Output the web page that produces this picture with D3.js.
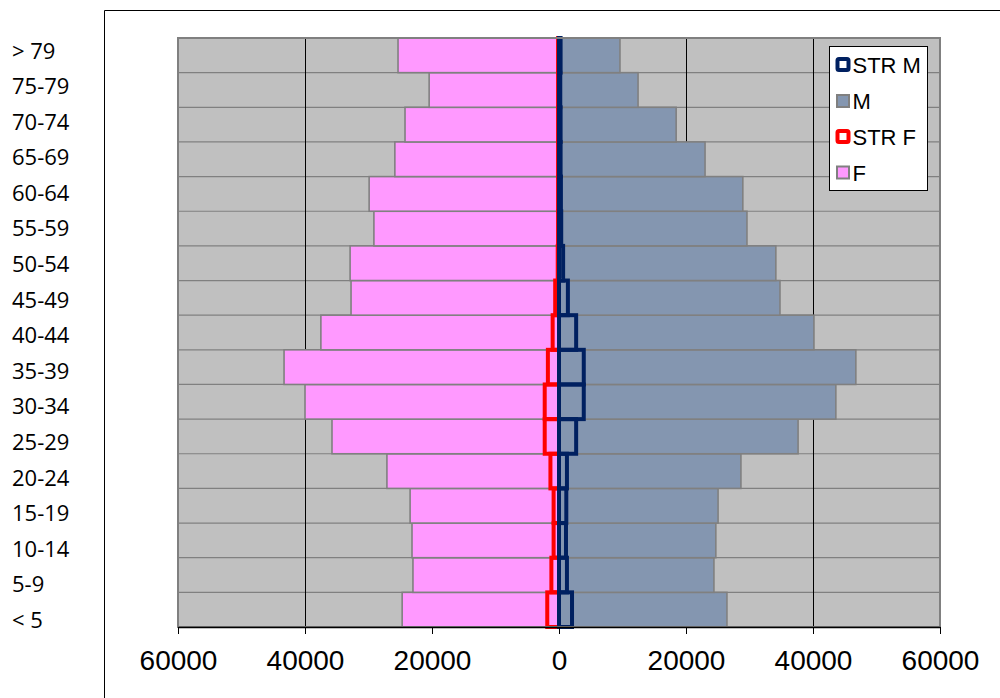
<!DOCTYPE html>
<html>
<head>
<meta charset="utf-8">
<script src="https://cdn.jsdelivr.net/npm/d3@7"></script>
<style>
  body { margin: 0; background: #fff; }
  svg { display: block; }
</style>
</head>
<body>
<script>
// age groups, bottom to top
var categories = ["< 5", "5-9", "10-14", "15-19", "20-24", "25-29", "30-34", "35-39", "40-44",
                  "45-49", "50-54", "55-59", "60-64", "65-69", "70-74", "75-79", "> 79"];
var valuesF = [24700, 23000, 23150, 23450, 27100, 35750, 40000, 43300, 37500,
               32750, 32900, 29150, 29900, 25850, 24250, 20450, 25350];
var valuesM = [26450, 24400, 24700, 25050, 28650, 37650, 43600, 46750, 40150,
               34800, 34150, 29600, 28950, 23000, 18450, 12450, 9600];
var valuesStrF = [1850, 1200, 850, 850, 1350, 2250, 2250, 1750, 1000,
                  600, 200, 150, 150, 150, 150, 150, 150];
var valuesStrM = [2050, 1250, 1100, 1150, 1250, 2700, 3900, 3900, 2700,
                  1400, 650, 350, 300, 250, 250, 200, 250];
var xTicks = [-60000, -40000, -20000, 0, 20000, 40000, 60000];
var legendItems = ["STR M", "M", "STR F", "F"];

var w = 1000, h = 698;
var plotL = 178, plotR = 940, plotT = 38, plotB = 627;
var colors = { F: "#ff99ff", M: "#8496b0", strF: "#ff0000", strM: "#002060", bg: "#c0c0c0", edge: "#808080" };

var svg = d3.select("body").append("svg").attr("width", w).attr("height", h);

// chart frame (only top and left edges visible)
svg.append("path")
    .attr("d", "M104.5," + h + "V10.5H" + w)
    .attr("fill", "none")
    .attr("stroke", "#000")
    .attr("stroke-width", 1);

var x = d3.scaleLinear().domain([-60000, 60000]).range([plotL, plotR]);
var order = categories.slice().reverse();
var y = d3.scaleBand().domain(order).range([plotT, plotB]).padding(0);
var yLabel = d3.scalePoint().domain(order).range([50.5, 620]);

var rows = categories.map(function (c, i) {
    return { cat: c, f: valuesF[i], m: valuesM[i], sf: valuesStrF[i], sm: valuesStrM[i] };
});

// plot background
svg.append("rect")
    .attr("x", plotL).attr("y", plotT)
    .attr("width", plotR - plotL).attr("height", plotB - plotT)
    .attr("fill", colors.bg);

// horizontal separators
svg.append("g").selectAll("line")
    .data(order.slice(1))
    .enter().append("line")
    .attr("x1", plotL).attr("x2", plotR)
    .attr("y1", d => y(d)).attr("y2", d => y(d))
    .attr("stroke", colors.edge)
    .attr("stroke-width", 1.2);

// vertical gridlines
svg.append("g").selectAll("line")
    .data(xTicks.slice(1, -1))
    .enter().append("line")
    .attr("x1", d => Math.round(x(d)) + 0.5).attr("x2", d => Math.round(x(d)) + 0.5)
    .attr("y1", plotT).attr("y2", plotB)
    .attr("stroke", "#000")
    .attr("stroke-width", 1);

// F bars
svg.append("g").selectAll("rect")
    .data(rows)
    .enter().append("rect")
    .attr("x", d => x(-d.f))
    .attr("y", d => y(d.cat))
    .attr("width", d => x(0) - x(-d.f))
    .attr("height", y.bandwidth())
    .attr("fill", colors.F)
    .attr("stroke", colors.edge)
    .attr("stroke-width", 1.6);

// M bars
svg.append("g").selectAll("rect")
    .data(rows)
    .enter().append("rect")
    .attr("x", x(0))
    .attr("y", d => y(d.cat))
    .attr("width", d => x(d.m) - x(0))
    .attr("height", y.bandwidth())
    .attr("fill", colors.M)
    .attr("stroke", colors.edge)
    .attr("stroke-width", 1.6);

// STR F outlines
svg.append("g").selectAll("rect")
    .data(rows)
    .enter().append("rect")
    .attr("x", d => x(-d.sf))
    .attr("y", d => y(d.cat))
    .attr("width", d => x(0) - x(-d.sf))
    .attr("height", y.bandwidth())
    .attr("fill", "none")
    .attr("stroke", colors.strF)
    .attr("stroke-width", 4);

// STR M outlines
svg.append("g").selectAll("rect")
    .data(rows)
    .enter().append("rect")
    .attr("x", x(0))
    .attr("y", d => y(d.cat))
    .attr("width", d => x(d.sm) - x(0))
    .attr("height", y.bandwidth())
    .attr("fill", "none")
    .attr("stroke", colors.strM)
    .attr("stroke-width", 4);

// plot border
svg.append("rect")
    .attr("x", plotL).attr("y", plotT)
    .attr("width", plotR - plotL).attr("height", plotB - plotT)
    .attr("fill", "none")
    .attr("stroke", colors.edge)
    .attr("stroke-width", 2);

// bottom axis
var xAxis = d3.axisBottom(x)
    .tickValues(xTicks)
    .tickSize(7)
    .tickSizeOuter(0)
    .tickFormat(d => Math.abs(d));

var xArea = svg.append("g")
    .attr("transform", "translate(0," + plotB + ")")
    .call(xAxis);
xArea.select(".domain").attr("stroke", "#000").attr("stroke-width", 1.5);
xArea.selectAll(".tick line").attr("stroke", "#000");
xArea.selectAll("text")
    .attr("y", 43)
    .attr("dy", 0)
    .attr("fill", "#000")
    .style("font", "28px 'Liberation Sans', Arial, sans-serif");

// category labels
svg.append("g").selectAll("text")
    .data(order)
    .enter().append("text")
    .attr("x", 12)
    .attr("y", d => yLabel(d) + 8)
    .text(d => d)
    .style("font", "22px 'Open Sans', sans-serif")
    .attr("fill", "#000");

// legend
var legend = svg.append("g").attr("transform", "translate(829.5,46.5)");
legend.append("rect")
    .attr("width", 98).attr("height", 144)
    .attr("fill", "#fff")
    .attr("stroke", "#000")
    .attr("stroke-width", 1);

var legendY = [18, 54.5, 90, 126];
legendItems.forEach(function (name, i) {
    var g = legend.append("g").attr("transform", "translate(0," + legendY[i] + ")");
    if (name === "STR M" || name === "STR F") {
        g.append("rect")
            .attr("x", 8).attr("y", -5.5)
            .attr("width", 11).attr("height", 11)
            .attr("rx", 1.5)
            .attr("fill", "#fff")
            .attr("stroke", name === "STR M" ? colors.strM : colors.strF)
            .attr("stroke-width", 4);
    } else {
        g.append("rect")
            .attr("x", 7.5).attr("y", -6)
            .attr("width", 12).attr("height", 12)
            .attr("fill", name === "M" ? colors.M : colors.F)
            .attr("stroke", colors.edge)
            .attr("stroke-width", 2);
    }
    g.append("text")
        .attr("x", 23)
        .attr("y", 8)
        .text(name)
        .style("font", "22px 'Liberation Sans', Arial, sans-serif")
        .attr("fill", "#000");
});
</script>
</body>
</html>
